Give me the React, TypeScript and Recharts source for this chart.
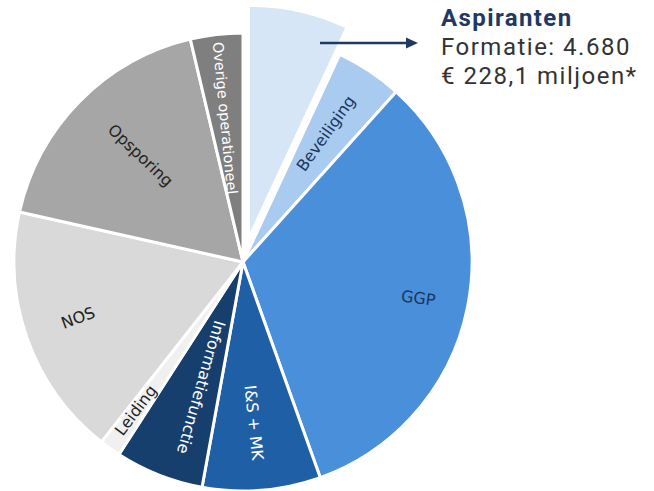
import { PieChart, Pie, Cell } from 'recharts'

// formatie per onderdeel (geschat uit de figuur, Aspiranten = 4.680)
const categories = [
  'Aspiranten',
  'Beveiliging',
  'GGP',
  'I&S + MK',
  'Informatiefunctie',
  'Leiding',
  'NOS',
  'Opsporing',
  'Overige operationeel',
]
const formatie = [4680, 3180, 22150, 5620, 4210, 1010, 12060, 12000, 2490]

const sliceColors = [
  '#d6e6f6',
  '#a9cbef',
  '#4a8fd9',
  '#1f5fa6',
  '#173f6d',
  '#f0f0f0',
  '#d9d9d9',
  '#a6a6a6',
  '#7f7f7f',
]

const pieData = categories.map((name, i) => ({ name, value: formatie[i] }))

const highlighted = 'Aspiranten'

// label placement: radius from centre, angular shift (clockwise deg), rotation, colour, size
const labelLayout: Record<string, { r: number; shift: number; rot: number; color: string; size: number }> = {
  Beveiliging: { r: 153, shift: -0.7, rot: -54.5, color: '#1b365d', size: 16 },
  GGP: { r: 179, shift: 0.5, rot: 8, color: '#1b365d', size: 16 },
  'I&S + MK': { r: 161, shift: 0.8, rot: 84, color: '#ffffff', size: 16 },
  Informatiefunctie: { r: 132, shift: -3, rot: 106, color: '#ffffff', size: 16 },
  Leiding: { r: 183, shift: 0.4, rot: -53, color: '#222222', size: 16 },
  NOS: { r: 174, shift: 0.9, rot: -20.5, color: '#222222', size: 16 },
  Opsporing: { r: 148, shift: 1.5, rot: 43.5, color: '#222222', size: 16 },
  'Overige operationeel': { r: 145, shift: -0.5, rot: 84.5, color: '#ffffff', size: 14.5 },
}

const labelFont = '"DejaVu Sans", sans-serif'
const textFont = 'Roboto, sans-serif'

const RADIAN = Math.PI / 180

function renderLabel(props: any) {
  const { cx, cy, midAngle } = props
  const name = props.payload?.name ?? props.name
  const l = labelLayout[name]
  if (!l) return null
  const a = (midAngle - l.shift) * RADIAN
  const x = cx + l.r * Math.cos(a)
  const y = cy - l.r * Math.sin(a)
  return (
    <text
      x={x}
      y={y}
      transform={`rotate(${l.rot} ${x} ${y})`}
      textAnchor="middle"
      dominantBaseline="central"
      fill={l.color}
      fontSize={l.size}
      fontFamily={labelFont}
    >
      {name}
    </text>
  )
}

export default function App() {
  return (
    <div style={{ position: 'absolute', left: 0, top: 0, width: 654, height: 491, background: '#fff' }}>
      <PieChart width={654} height={491} margin={{ top: 0, right: 0, bottom: 0, left: 0 }}>
        <Pie
          data={pieData}
          dataKey="value"
          nameKey="name"
          cx={243}
          cy={262}
          outerRadius={229}
          startAngle={90}
          endAngle={-270}
          stroke="#ffffff"
          strokeWidth={3}
          label={renderLabel}
          labelLine={false}
          isAnimationActive={false}
        >
          {pieData.map((d, i) => (
            <Cell
              key={d.name}
              fill={d.name === highlighted ? 'none' : sliceColors[i]}
              stroke={d.name === highlighted ? 'none' : '#ffffff'}
            />
          ))}
        </Pie>
        {/* uitgelicht segment: Aspiranten */}
        <Pie
          data={pieData}
          dataKey="value"
          nameKey="name"
          cx={250}
          cy={232}
          outerRadius={225}
          startAngle={90}
          endAngle={-270}
          isAnimationActive={false}
        >
          {pieData.map((d, i) => (
            <Cell
              key={d.name}
              fill={d.name === highlighted ? sliceColors[i] : 'none'}
              stroke="none"
            />
          ))}
        </Pie>
      </PieChart>
      <svg width={654} height={491} style={{ position: 'absolute', left: 0, top: 0, pointerEvents: 'none' }}>
        <line x1={320} y1={43} x2={408} y2={43} stroke="#1f3a5f" strokeWidth={2.5} />
        <polygon points="418,43 406,37.5 406,48.5" fill="#1f3a5f" />
        <text x={441} y={26} fontFamily={textFont} fontWeight={700} fontSize={24} letterSpacing={1.4} fill="#1f3864">
          Aspiranten
        </text>
        <text x={441} y={55} fontFamily={textFont} fontSize={24} letterSpacing={1.5} fill="#333333">
          Formatie: 4.680
        </text>
        <text x={441} y={84} fontFamily={textFont} fontSize={24} letterSpacing={1.5} fill="#333333">
          € 228,1 miljoen*
        </text>
      </svg>
    </div>
  )
}
